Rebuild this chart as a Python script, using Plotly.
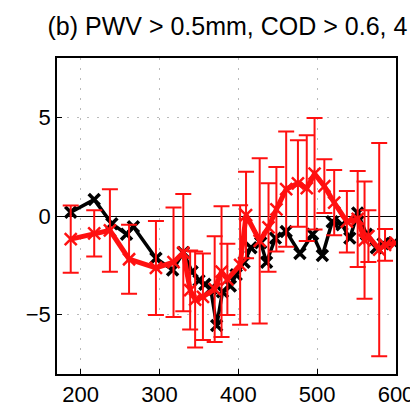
import plotly.graph_objects as go

# red series (with error bars)
red_x = [187.4, 217.2, 237.1, 261.4, 295.5, 317.8, 330.2, 338.9, 345.2, 355.1,
         370.0, 378.7, 386.1, 402.3, 409.8, 427.1, 438.3, 448.3, 460.7, 475.6,
         486.8, 496.7, 509.1, 521.6, 537.7, 551.4, 560.1, 565.0, 578.7, 586.1, 599.8]
red_y = [-1.17, -0.88, -0.73, -2.19, -2.63, -2.34, -1.85, -3.75, -4.23, -4.09,
         -3.70, -2.82, -3.21, -2.48, 0.05, -1.26, -0.58, 0.34, 1.36, 1.65,
         1.41, 2.14, 1.51, 0.68, -0.29, -0.15, -1.22, -1.02, -1.70, -1.46, -1.36]
red_err = [1.70, 1.17, 2.09, 1.75, 2.38, 2.77, 2.97, 2.00, 2.43, 2.19,
           2.68, 3.31, 1.80, 3.02, 2.19, 4.18, 2.24, 2.14, 2.92, 2.19,
           2.68, 2.82, 1.36, 1.65, 1.56, 2.43, 2.97, 1.31, 5.40, 0.80, 0.0]

# black series
blk_x = [187.4, 217.2, 239.6, 258.2, 266.9, 295.5, 316.6, 330.2, 341.4, 350.1,
         357.6, 365.0, 372.5, 379.9, 389.9, 397.3, 407.3, 416.0, 428.4, 435.8,
         447.0, 460.7, 478.1, 494.2, 506.6, 519.1, 531.5, 541.4, 551.4, 562.5,
         575.0, 583.7, 597.3]
blk_y = [0.19, 0.83, -0.39, -0.92, -0.54, -2.14, -2.73, -1.85, -2.82, -3.26,
         -3.45, -3.70, -5.55, -3.84, -3.55, -2.97, -2.34, -1.61, -1.36, -2.34,
         -1.12, -0.78, -1.90, -0.92, -2.00, -0.29, -0.44, -1.12, 0.15, -0.92,
         -1.61, -1.41, -1.36]

RED = "#ff1010"

fig = go.Figure()

fig.add_trace(go.Scatter(
    x=blk_x, y=blk_y, mode="lines+markers",
    line=dict(color="black", width=3.5),
    marker=dict(symbol="x-thin", size=11, line=dict(color="black", width=3.5)),
    showlegend=False))

fig.add_trace(go.Scatter(
    x=red_x, y=red_y, mode="lines+markers",
    line=dict(color=RED, width=5),
    marker=dict(symbol="x-thin", size=12, line=dict(color=RED, width=2.5)),
    error_y=dict(type="data", array=red_err, visible=True,
                 color=RED, thickness=2, width=8),
    showlegend=False))

fig.update_layout(
    width=418, height=411,
    margin=dict(l=49, r=23, t=50, b=32),
    paper_bgcolor="white", plot_bgcolor="white",
    font=dict(family="Liberation Sans, Arial, sans-serif", size=22, color="black"),
    title=dict(text="(b) PWV > 0.5mm, COD > 0.6, 4", x=0.525, xanchor="center",
               y=0.955, yanchor="middle", font=dict(size=25)),
)

grid_dash = "2px,8px"
fig.update_xaxes(
    range=[170, 600], tickvals=[200, 300, 400, 500, 600],
    ticks="inside", ticklen=5, tickcolor="black",
    showline=True, linecolor="black", linewidth=1.5, mirror=True,
    showgrid=True, gridcolor="#bbbbbb", griddash=grid_dash, gridwidth=1.2,
    zeroline=False)
fig.update_yaxes(
    range=[-8, 8], tickvals=[-5, 0, 5],
    ticks="inside", ticklen=5, tickcolor="black",
    showline=True, linecolor="black", linewidth=1.5, mirror=True,
    showgrid=True, gridcolor="#bbbbbb", griddash=grid_dash, gridwidth=1.2,
    zeroline=True, zerolinecolor="black", zerolinewidth=1)

fig.write_html("out.html")
